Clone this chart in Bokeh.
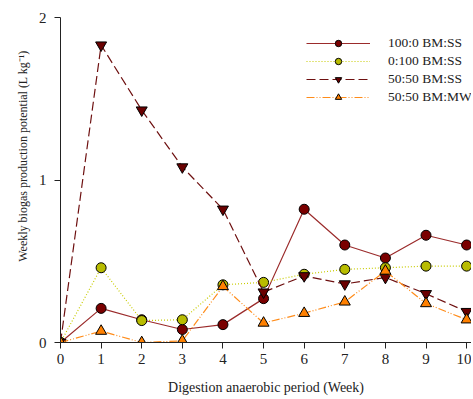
from bokeh.plotting import figure
from bokeh.models import Range1d, FixedTicker, Legend, LegendItem
from bokeh.embed import file_html
from bokeh.resources import INLINE

weeks = [0, 1, 2, 3, 4, 5, 6, 7, 8, 9, 10]
bm100_ss0 = [0.0, 0.21, 0.14, 0.08, 0.11, 0.27, 0.82, 0.60, 0.52, 0.66, 0.60]
bm0_ss100 = [0.0, 0.46, 0.135, 0.14, 0.355, 0.37, 0.42, 0.45, 0.46, 0.47, 0.47]
bm50_ss50 = [0.0, 1.83, 1.43, 1.08, 0.82, 0.31, 0.41, 0.36, 0.40, 0.30, 0.19]
bm50_mw50 = [0.0, 0.07, 0.0, 0.01, 0.345, 0.12, 0.18, 0.25, 0.44, 0.24, 0.14]

x_ticks = [0, 1, 2, 3, 4, 5, 6, 7, 8, 9, 10]
y_ticks = [0, 1, 2]

FONT = "Liberation Serif"

p = figure(width=471, height=397, output_backend="svg", toolbar_location=None,
           x_range=Range1d(0, 10.12), y_range=Range1d(0, 2),
           min_border_left=60, min_border_right=0, min_border_top=17, min_border_bottom=55)
p.outline_line_color = None
p.grid.visible = False

for ax in (p.xaxis[0], p.yaxis[0]):
    ax.axis_line_color = "#222222"
    ax.major_tick_line_color = "#222222"
    ax.major_tick_in = 0
    ax.major_tick_out = 6
    ax.minor_tick_line_color = None
    ax.major_label_text_font = FONT
    ax.major_label_text_font_size = "15px"
    ax.major_label_text_color = "#222222"
    ax.axis_label_text_font = FONT
    ax.axis_label_text_font_style = "normal"
    ax.axis_label_text_color = "#222222"

p.xaxis.axis_label_text_font_size = "14px"
p.yaxis.axis_label_text_font_size = "12px"
p.xaxis.ticker = FixedTicker(ticks=x_ticks)
p.yaxis.ticker = FixedTicker(ticks=y_ticks)
p.xaxis.axis_label = "Digestion anaerobic period (Week)"
p.yaxis.axis_label = "\u2002" * 8 + "Weekly biogas production potential (L kg\u207b\u00b9)"
p.xaxis.axis_label_standoff = 13
p.yaxis.axis_label_standoff = 6
p.xaxis.major_label_standoff = 5
p.yaxis.major_label_standoff = 8

series = [
    ("100:0 BM:SS", bm100_ss0, "#9b2b2b", "solid", "circle", "#7a0000"),
    ("0:100 BM:SS", bm0_ss100, "#c8cc00", "1 2", "circle", "#b8bc00"),
    ("50:50 BM:SS", bm50_ss50, "#6e1010", "9 4", "inverted_triangle", "#6a0000"),
    ("50:50 BM:MW", bm50_mw50, "#ff8c1a", "8 2 1 2 1 2", "triangle", "#ff8000"),
]

items = []
for name, ys, lc, dash, mk, fc in series:
    r1 = p.line(weeks, ys, line_color=lc, line_dash=dash, line_width=1.2)
    r2 = p.scatter(weeks, ys, marker=mk, size=10 if mk == "circle" else 11,
                   fill_color=fc, line_color="black", line_width=1)
    items.append(LegendItem(label=name, renderers=[r1, r2]))

legend = Legend(items=items, location="top_right")
legend.border_line_color = None
legend.background_fill_alpha = 0
legend.label_text_font = FONT
legend.label_text_font_size = "13.5px"
legend.label_text_color = "#222222"
legend.glyph_width = 64
legend.glyph_height = 16
legend.label_standoff = 18
legend.spacing = 2
legend.padding = 0
legend.margin = 0
legend.label_height = 16
p.add_layout(legend, "center")
legend.location = (246, 237)

open("out.html", "w").write(file_html(p, INLINE))
